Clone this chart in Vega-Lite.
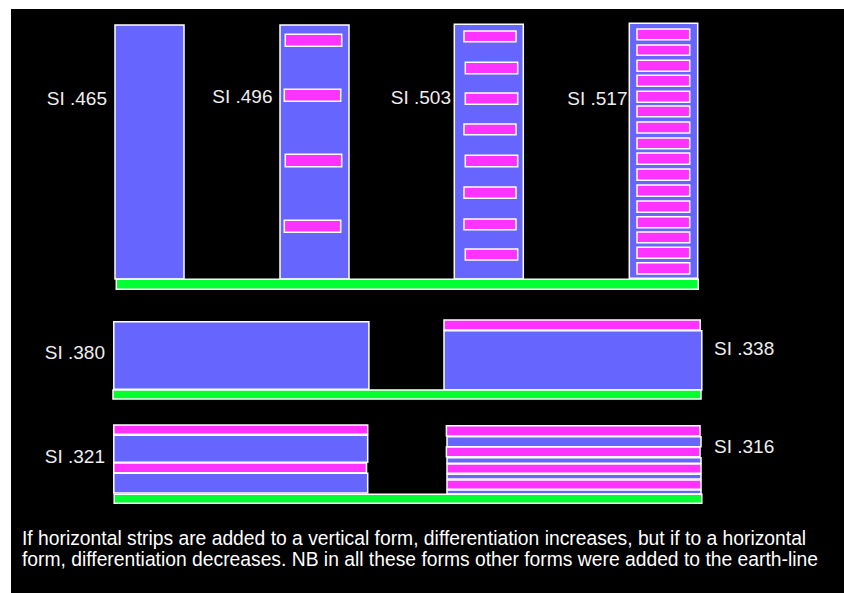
{
  "$schema": "https://vega.github.io/schema/vega-lite/v6.json",
  "autosize": {"type": "none"},
  "width": 833,
  "height": 584,
  "padding": {"left": 11, "top": 9, "right": 0, "bottom": 0},
  "background": "white",
  "config": {"view": {"fill": "black", "stroke": null}},
  "datasets": {
    "rects": [
      {"kind": "B", "x1": 115, "x2": 184, "y1": 25, "y2": 279},
      {"kind": "B", "x1": 280, "x2": 349, "y1": 25, "y2": 279},
      {"kind": "M", "x1": 285.3, "x2": 341.7, "y1": 34.3, "y2": 46.3},
      {"kind": "M", "x1": 284.3, "x2": 340.7, "y1": 89.3, "y2": 101.3},
      {"kind": "M", "x1": 285.3, "x2": 341.7, "y1": 154.3, "y2": 166.7},
      {"kind": "M", "x1": 284.3, "x2": 340.7, "y1": 220.3, "y2": 232.3},
      {"kind": "B", "x1": 454.3, "x2": 523.3, "y1": 24.3, "y2": 279},
      {"kind": "M", "x1": 464, "x2": 516, "y1": 31, "y2": 41.7},
      {"kind": "M", "x1": 465.3, "x2": 517.7, "y1": 62.3, "y2": 73.7},
      {"kind": "M", "x1": 465.3, "x2": 517.7, "y1": 93, "y2": 104.3},
      {"kind": "M", "x1": 464, "x2": 516, "y1": 124, "y2": 134.7},
      {"kind": "M", "x1": 465.3, "x2": 517.7, "y1": 155.3, "y2": 166.7},
      {"kind": "M", "x1": 464, "x2": 516, "y1": 187, "y2": 198.3},
      {"kind": "M", "x1": 464, "x2": 516, "y1": 219, "y2": 229.7},
      {"kind": "M", "x1": 465.3, "x2": 517.7, "y1": 249, "y2": 260},
      {"kind": "B", "x1": 629.3, "x2": 697.7, "y1": 23.3, "y2": 278.3},
      {"kind": "M", "x1": 637, "x2": 689.7, "y1": 29, "y2": 39.7},
      {"kind": "M", "x1": 637, "x2": 689.7, "y1": 45, "y2": 55.3},
      {"kind": "M", "x1": 637, "x2": 689.7, "y1": 60.3, "y2": 71.3},
      {"kind": "M", "x1": 637, "x2": 689.7, "y1": 75.3, "y2": 86.3},
      {"kind": "M", "x1": 637, "x2": 689.7, "y1": 91.3, "y2": 102.3},
      {"kind": "M", "x1": 637, "x2": 689.7, "y1": 106, "y2": 116.7},
      {"kind": "M", "x1": 637, "x2": 689.7, "y1": 122, "y2": 133},
      {"kind": "M", "x1": 637, "x2": 689.7, "y1": 138, "y2": 148.7},
      {"kind": "M", "x1": 637, "x2": 689.7, "y1": 153, "y2": 164.3},
      {"kind": "M", "x1": 637, "x2": 689.7, "y1": 169, "y2": 180.3},
      {"kind": "M", "x1": 637, "x2": 689.7, "y1": 185, "y2": 196.3},
      {"kind": "M", "x1": 637, "x2": 689.7, "y1": 201, "y2": 212.3},
      {"kind": "M", "x1": 637, "x2": 689.7, "y1": 216.7, "y2": 227.7},
      {"kind": "M", "x1": 637, "x2": 689.7, "y1": 232, "y2": 242.7},
      {"kind": "M", "x1": 637, "x2": 689.7, "y1": 247.3, "y2": 258.3},
      {"kind": "M", "x1": 637, "x2": 689.7, "y1": 262.7, "y2": 274},
      {"kind": "G", "x1": 116.3, "x2": 698.3, "y1": 279.3, "y2": 289.3},
      {"kind": "B", "x1": 113.8, "x2": 368.9, "y1": 321.7, "y2": 389.3},
      {"kind": "B", "x1": 444, "x2": 701.8, "y1": 330.7, "y2": 390},
      {"kind": "M", "x1": 444, "x2": 700.2, "y1": 320, "y2": 330},
      {"kind": "G", "x1": 113, "x2": 701, "y1": 390, "y2": 399},
      {"kind": "B", "x1": 113.8, "x2": 367.7, "y1": 435.3, "y2": 462.3},
      {"kind": "B", "x1": 113.8, "x2": 367.7, "y1": 473.3, "y2": 493},
      {"kind": "M", "x1": 113.8, "x2": 367.7, "y1": 425, "y2": 434.3},
      {"kind": "M", "x1": 113.8, "x2": 366.5, "y1": 463, "y2": 472.7},
      {"kind": "M", "x1": 446.4, "x2": 700, "y1": 425.7, "y2": 436},
      {"kind": "B", "x1": 447, "x2": 701, "y1": 436.7, "y2": 446.7},
      {"kind": "M", "x1": 446.4, "x2": 700, "y1": 447, "y2": 456.7},
      {"kind": "B", "x1": 447, "x2": 701, "y1": 457.7, "y2": 463.3},
      {"kind": "M", "x1": 447, "x2": 701, "y1": 464, "y2": 473.3},
      {"kind": "B", "x1": 447, "x2": 701, "y1": 474.3, "y2": 479},
      {"kind": "M", "x1": 447, "x2": 701, "y1": 480, "y2": 489.3},
      {"kind": "B", "x1": 447, "x2": 701, "y1": 490, "y2": 494},
      {"kind": "G", "x1": 114.2, "x2": 701.8, "y1": 494.3, "y2": 503.3}
    ],
    "labels": [
      {"side": "L", "label": "SI .465", "tx": 107, "ty": 98.5},
      {"side": "L", "label": "SI .496", "tx": 272.5, "ty": 97},
      {"side": "L", "label": "SI .503", "tx": 451, "ty": 97.5},
      {"side": "L", "label": "SI .517", "tx": 627.5, "ty": 98.5},
      {"side": "L", "label": "SI .380", "tx": 105, "ty": 353},
      {"side": "L", "label": "SI .321", "tx": 105, "ty": 457},
      {"side": "R", "label": "SI .338", "tx": 714, "ty": 349},
      {"side": "R", "label": "SI .316", "tx": 714, "ty": 447}
    ],
    "caption": [
      {"label": "If horizontal strips are added to a vertical form, differentiation increases, but if to a horizontal", "tx": 22, "ty": 545},
      {"label": "form, differentiation decreases. NB in all these forms other forms were added to the earth-line", "tx": 22, "ty": 566}
    ]
  },
  "layer": [
    {
      "data": {"name": "rects"},
      "mark": {"type": "rect", "stroke": "white", "strokeWidth": 1.5},
      "encoding": {
        "x": {"field": "x1", "type": "quantitative", "scale": {"domain": [11, 844], "nice": false, "zero": false}, "axis": null},
        "x2": {"field": "x2"},
        "y": {"field": "y1", "type": "quantitative", "scale": {"domain": [9, 593], "reverse": true, "nice": false, "zero": false}, "axis": null},
        "y2": {"field": "y2"},
        "color": {"field": "kind", "type": "nominal", "scale": {"domain": ["B", "M", "G"], "range": ["#6666ff", "#ff33ff", "#00ff33"]}, "legend": null}
      }
    },
    {
      "data": {"name": "labels"},
      "transform": [{"filter": "datum.side === 'L'"}],
      "mark": {"type": "text", "align": "right", "baseline": "middle", "font": "Liberation Sans", "fontSize": 19, "color": "#eeeeee"},
      "encoding": {
        "x": {"field": "tx", "type": "quantitative"},
        "y": {"field": "ty", "type": "quantitative"},
        "text": {"field": "label"}
      }
    },
    {
      "data": {"name": "labels"},
      "transform": [{"filter": "datum.side === 'R'"}],
      "mark": {"type": "text", "align": "left", "baseline": "middle", "font": "Liberation Sans", "fontSize": 19, "color": "#eeeeee"},
      "encoding": {
        "x": {"field": "tx", "type": "quantitative"},
        "y": {"field": "ty", "type": "quantitative"},
        "text": {"field": "label"}
      }
    },
    {
      "data": {"name": "caption"},
      "mark": {"type": "text", "align": "left", "baseline": "alphabetic", "font": "Liberation Sans", "fontSize": 19.3, "color": "white"},
      "encoding": {
        "x": {"field": "tx", "type": "quantitative"},
        "y": {"field": "ty", "type": "quantitative"},
        "text": {"field": "label"}
      }
    }
  ]
}
